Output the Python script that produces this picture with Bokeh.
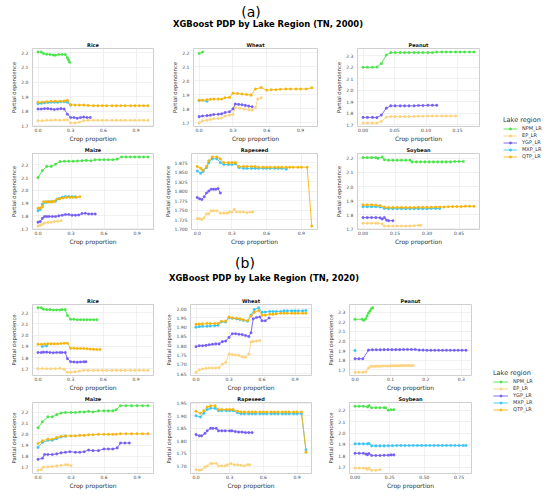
from bokeh.plotting import figure
from bokeh.layouts import row, column
from bokeh.models import FixedTicker, PrintfTickFormatter, Legend, LegendItem, Div
from bokeh.embed import file_html
from bokeh.resources import INLINE

FONT = "DejaVu Sans"
REGIONS = ["NPM_LR", "EP_LR", "YGP_LR", "MXP_LR", "QTP_LR"]
COLORS = {"NPM_LR": "#4be34b", "EP_LR": "#fdd27c", "YGP_LR": "#7460f0",
          "MXP_LR": "#38c6f4", "QTP_LR": "#f5b40f"}

TITLE_A = "XGBoost PDP by Lake Region (TN, 2000)"
TITLE_B = "XGBoost PDP by Lake Region (TN, 2020)"
CROPS = ["Rice", "Wheat", "Peanut", "Maize", "Rapeseed", "Soybean"]

# ---------------- (a) 2000 ----------------
A_RICE_NPM_X = [0.0, 0.03, 0.05, 0.08, 0.11, 0.14, 0.16, 0.19, 0.22, 0.25, 0.27, 0.28, 0.29]
A_RICE_NPM_Y = [2.205, 2.205, 2.195, 2.19, 2.188, 2.185, 2.183, 2.188, 2.188, 2.188, 2.165, 2.15, 2.135]
A_RICE_GRID = [0.0, 0.04, 0.08, 0.12, 0.16, 0.2, 0.24, 0.27, 0.3, 0.34, 0.38, 0.42, 0.46, 0.51, 0.55, 0.59, 0.63,
               0.68, 0.72, 0.76, 0.8, 0.85, 0.89, 0.93, 0.97, 1.01]
A_RICE_EP_Y = [1.735, 1.735, 1.738, 1.738, 1.74, 1.738, 1.74, 1.742, 1.72, 1.72, 1.725, 1.735, 1.738, 1.738,
               1.738, 1.738, 1.738, 1.738, 1.738, 1.738, 1.738, 1.738, 1.738, 1.738, 1.738, 1.738]
A_RICE_YGP_X = [0.0, 0.03, 0.06, 0.09, 0.12, 0.15, 0.18, 0.21, 0.24, 0.27, 0.3, 0.33, 0.36, 0.39, 0.42, 0.45, 0.48]
A_RICE_YGP_Y = [1.815, 1.815, 1.818, 1.818, 1.815, 1.812, 1.815, 1.818, 1.815, 1.78, 1.757, 1.757, 1.752, 1.757,
                1.76, 1.757, 1.757]
A_RICE_MXP_X = [0.0, 0.03, 0.06, 0.09, 0.12, 0.15, 0.18, 0.21, 0.24, 0.27, 0.3]
A_RICE_MXP_Y = [1.852, 1.855, 1.858, 1.86, 1.862, 1.862, 1.862, 1.865, 1.865, 1.862, 1.842]
A_RICE_QTP_Y = [1.862, 1.862, 1.865, 1.868, 1.868, 1.868, 1.87, 1.875, 1.845, 1.842, 1.842, 1.842, 1.84, 1.838,
                1.838, 1.838, 1.838, 1.838, 1.838, 1.838, 1.838, 1.838, 1.838, 1.838, 1.838, 1.838]

A_WHEAT_NPM_X = [0.0, 0.03]
A_WHEAT_NPM_Y = [2.195, 2.205]
A_WHEAT_EP_X = [0.0, 0.03, 0.07, 0.1, 0.13, 0.17, 0.2, 0.23, 0.27, 0.3, 0.32, 0.36, 0.4, 0.44, 0.47, 0.5, 0.52, 0.55]
A_WHEAT_EP_Y = [1.70, 1.715, 1.72, 1.725, 1.73, 1.732, 1.735, 1.75, 1.755, 1.76, 1.81, 1.805, 1.80, 1.795, 1.79,
                1.81, 1.87, 1.88]
A_WHEAT_YGP_X = [0.0, 0.03, 0.07, 0.1, 0.13, 0.17, 0.2, 0.23, 0.27, 0.3, 0.32, 0.35, 0.38, 0.41, 0.44, 0.47]
A_WHEAT_YGP_Y = [1.745, 1.75, 1.752, 1.755, 1.76, 1.762, 1.765, 1.775, 1.78, 1.80, 1.835, 1.832, 1.83, 1.825,
                 1.82, 1.815]
A_WHEAT_MXP_X = [0.0, 0.07]
A_WHEAT_MXP_Y = [1.86, 1.855]
A_WHEAT_QTP_X = [0.0, 0.03, 0.07, 0.1, 0.13, 0.17, 0.2, 0.23, 0.27, 0.3, 0.34, 0.38, 0.42, 0.46, 0.5, 0.55, 0.6,
                 0.64, 0.68, 0.72, 0.77, 0.81, 0.86, 0.9, 0.95, 1.0]
A_WHEAT_QTP_Y = [1.862, 1.862, 1.865, 1.868, 1.87, 1.87, 1.87, 1.88, 1.882, 1.912, 1.91, 1.906, 1.903, 1.898,
                 1.942, 1.952, 1.933, 1.937, 1.937, 1.94, 1.942, 1.942, 1.942, 1.942, 1.942, 1.95]

A_PEANUT_GRID = [0.0, 0.007, 0.015, 0.022, 0.029, 0.037, 0.044, 0.051, 0.059, 0.066, 0.073, 0.081, 0.088, 0.095,
                 0.103, 0.11, 0.117, 0.125, 0.132, 0.139, 0.147, 0.154, 0.161, 0.169, 0.176]
A_PEANUT_NPM_Y = [2.198, 2.198, 2.198, 2.2, 2.23, 2.305, 2.325, 2.325, 2.325, 2.325, 2.325, 2.325, 2.325, 2.325,
                  2.325, 2.325, 2.33, 2.33, 2.33, 2.33, 2.33, 2.33, 2.33, 2.33, 2.33]
A_PEANUT_YGP_X = [0.0, 0.007, 0.015, 0.022, 0.029, 0.037, 0.044, 0.051, 0.059, 0.066, 0.073, 0.081, 0.088, 0.095,
                  0.103, 0.11, 0.117]
A_PEANUT_YGP_Y = [1.765, 1.765, 1.765, 1.763, 1.785, 1.845, 1.865, 1.865, 1.865, 1.865, 1.865, 1.865, 1.868, 1.868,
                  1.87, 1.87, 1.87]
A_PEANUT_EP_X = [0.0, 0.007, 0.015, 0.022, 0.029, 0.037, 0.044, 0.051, 0.059, 0.066, 0.073, 0.081, 0.088, 0.095,
                 0.103, 0.11, 0.117, 0.125, 0.132, 0.139, 0.147]
A_PEANUT_EP_Y = [1.717, 1.717, 1.717, 1.717, 1.73, 1.768, 1.772, 1.772, 1.772, 1.772, 1.772, 1.774, 1.775, 1.775,
                 1.777, 1.777, 1.777, 1.777, 1.777, 1.777, 1.777]

A_MAIZE_NPM_X = [0.0, 0.04, 0.08, 0.12, 0.16, 0.2, 0.24, 0.28, 0.32, 0.36, 0.4, 0.44, 0.48, 0.52, 0.56, 0.6, 0.64,
                 0.68, 0.72, 0.76, 0.8, 0.84, 0.88, 0.92, 0.96, 1.0]
A_MAIZE_NPM_Y = [2.10, 2.155, 2.188, 2.188, 2.205, 2.225, 2.228, 2.228, 2.228, 2.23, 2.232, 2.235, 2.232, 2.24,
                 2.24, 2.24, 2.24, 2.24, 2.245, 2.262, 2.262, 2.262, 2.262, 2.262, 2.262, 2.262]
A_MAIZE_EP_X = [0.0, 0.02, 0.04, 0.06, 0.09, 0.12, 0.15, 0.18, 0.21]
A_MAIZE_EP_Y = [1.72, 1.725, 1.735, 1.745, 1.748, 1.75, 1.755, 1.758, 1.762]
A_MAIZE_YGP_X = [0.0, 0.02, 0.04, 0.06, 0.08, 0.1, 0.13, 0.16, 0.19, 0.22, 0.25, 0.28, 0.31, 0.34, 0.37, 0.4, 0.43,
                 0.46, 0.49, 0.52]
A_MAIZE_YGP_Y = [1.75, 1.755, 1.78, 1.795, 1.795, 1.795, 1.795, 1.795, 1.80, 1.805, 1.81, 1.81, 1.805, 1.805,
                 1.807, 1.818, 1.82, 1.815, 1.815, 1.815]
A_MAIZE_MXP_X = [0.0, 0.02, 0.04, 0.06, 0.08, 0.1, 0.13, 0.16, 0.19, 0.22, 0.25, 0.28, 0.31, 0.34]
A_MAIZE_MXP_Y = [1.84, 1.85, 1.89, 1.905, 1.908, 1.91, 1.912, 1.915, 1.935, 1.945, 1.952, 1.952, 1.95, 1.95]
A_MAIZE_QTP_X = [0.0, 0.02, 0.04, 0.05, 0.07, 0.09, 0.11, 0.13, 0.15, 0.17, 0.2, 0.23, 0.26, 0.29, 0.32, 0.35, 0.38]
A_MAIZE_QTP_Y = [1.86, 1.862, 1.87, 1.91, 1.91, 1.91, 1.91, 1.91, 1.915, 1.93, 1.935, 1.94, 1.945, 1.945, 1.945,
                 1.945, 1.95]

A_RAPE_GRID = [0.0, 0.03, 0.05, 0.08, 0.1, 0.13, 0.17, 0.2, 0.23, 0.27, 0.3, 0.33, 0.36, 0.4, 0.43, 0.47, 0.5, 0.53,
               0.57, 0.6, 0.63, 0.67, 0.7, 0.73, 0.77, 0.8, 0.83, 0.87, 0.9, 0.95, 0.99]
A_RAPE_QTP_Y = [1.865, 1.86, 1.855, 1.865, 1.88, 1.89, 1.89, 1.885, 1.875, 1.875, 1.875, 1.875, 1.865, 1.865,
                1.865, 1.865, 1.865, 1.863, 1.863, 1.863, 1.863, 1.863, 1.863, 1.863, 1.863, 1.863, 1.863, 1.863,
                1.863, 1.863, 1.708]
A_RAPE_MXP_X = [0.0, 0.03, 0.05, 0.08, 0.1, 0.13, 0.17, 0.2, 0.23, 0.27, 0.3, 0.33, 0.36, 0.4, 0.43, 0.47, 0.5, 0.53,
                0.57, 0.6, 0.63, 0.67, 0.7, 0.73, 0.77]
A_RAPE_MXP_Y = [1.853, 1.847, 1.852, 1.862, 1.875, 1.885, 1.885, 1.875, 1.87, 1.87, 1.87, 1.872, 1.862, 1.86,
                1.86, 1.86, 1.86, 1.86, 1.86, 1.86, 1.86, 1.86, 1.86, 1.86, 1.858]
A_RAPE_YGP_X = [0.0, 0.02, 0.04, 0.06, 0.08, 0.1, 0.12, 0.14, 0.16, 0.18, 0.2]
A_RAPE_YGP_Y = [1.783, 1.78, 1.778, 1.785, 1.795, 1.80, 1.805, 1.805, 1.805, 1.807, 1.795]
A_RAPE_EP_X = [0.0, 0.02, 0.04, 0.06, 0.08, 0.1, 0.12, 0.14, 0.17, 0.2, 0.23, 0.26, 0.28, 0.3, 0.32, 0.34, 0.37,
               0.4, 0.43, 0.46, 0.48]
A_RAPE_EP_Y = [1.728, 1.727, 1.725, 1.73, 1.74, 1.74, 1.748, 1.748, 1.748, 1.742, 1.742, 1.742, 1.745, 1.745,
               1.752, 1.745, 1.745, 1.745, 1.743, 1.745, 1.745]

A_SOY_NPM_X = [0.0, 0.02, 0.04, 0.06, 0.07, 0.09, 0.1, 0.12, 0.14, 0.16, 0.18, 0.2, 0.22, 0.23, 0.25, 0.27, 0.29,
               0.31, 0.33, 0.35, 0.37, 0.39, 0.41, 0.43, 0.45, 0.47]
A_SOY_NPM_Y = [2.205, 2.205, 2.205, 2.205, 2.2, 2.21, 2.19, 2.187, 2.187, 2.187, 2.187, 2.187, 2.187, 2.175,
               2.175, 2.175, 2.175, 2.175, 2.175, 2.175, 2.175, 2.175, 2.175, 2.178, 2.178, 2.178]
A_SOY_QTP_X = [0.0, 0.02, 0.04, 0.06, 0.08, 0.1, 0.12, 0.14, 0.16, 0.18, 0.2, 0.22, 0.24, 0.26, 0.28, 0.3, 0.32,
               0.34, 0.36, 0.38, 0.4, 0.42, 0.44, 0.46, 0.48, 0.5, 0.52]
A_SOY_QTP_Y = [1.87, 1.87, 1.87, 1.868, 1.865, 1.855, 1.852, 1.852, 1.852, 1.852, 1.852, 1.852, 1.852, 1.853,
               1.853, 1.853, 1.853, 1.855, 1.855, 1.855, 1.857, 1.858, 1.858, 1.858, 1.86, 1.86, 1.86]
A_SOY_MXP_X = [0.0, 0.02, 0.04, 0.06, 0.08, 0.1, 0.12, 0.14, 0.16, 0.18, 0.2, 0.22, 0.24, 0.26, 0.28, 0.3, 0.32,
               0.34, 0.36]
A_SOY_MXP_Y = [1.857, 1.857, 1.857, 1.857, 1.855, 1.845, 1.843, 1.843, 1.843, 1.843, 1.843, 1.843, 1.843, 1.843,
               1.843, 1.843, 1.845, 1.845, 1.845]
A_SOY_YGP_X = [0.0, 0.02, 0.04, 0.06, 0.08, 0.09, 0.1, 0.11, 0.12, 0.14]
A_SOY_YGP_Y = [1.78, 1.78, 1.78, 1.78, 1.778, 1.77, 1.78, 1.762, 1.758, 1.758]
A_SOY_EP_X = [0.0, 0.02, 0.04, 0.06, 0.07, 0.09, 0.1, 0.12, 0.14, 0.16, 0.18, 0.2, 0.22, 0.24, 0.26, 0.27]
A_SOY_EP_Y = [1.74, 1.74, 1.74, 1.74, 1.74, 1.735, 1.72, 1.72, 1.72, 1.72, 1.72, 1.72, 1.72, 1.722, 1.725, 1.725]

# ---------------- (b) 2020 ----------------
B_RICE_NPM_X = [0.0, 0.03, 0.05, 0.08, 0.11, 0.14, 0.17, 0.2, 0.22, 0.25, 0.27, 0.3, 0.33, 0.36, 0.39, 0.42, 0.45,
                0.48, 0.51, 0.54]
B_RICE_NPM_Y = [2.245, 2.245, 2.232, 2.228, 2.228, 2.225, 2.225, 2.225, 2.228, 2.228, 2.175, 2.142, 2.142, 2.138,
                2.138, 2.138, 2.138, 2.138, 2.138, 2.138]
B_RICE_QTP_X = [0.0, 0.03, 0.06, 0.09, 0.12, 0.15, 0.18, 0.21, 0.24, 0.27, 0.3, 0.33, 0.36, 0.39, 0.42, 0.45, 0.48,
                0.51, 0.54, 0.57]
B_RICE_QTP_Y = [1.918, 1.918, 1.92, 1.922, 1.922, 1.922, 1.922, 1.925, 1.928, 1.928, 1.883, 1.883, 1.88, 1.88,
                1.88, 1.878, 1.875, 1.873, 1.872, 1.872]
B_RICE_MXP_X = [0.04, 0.08]
B_RICE_MXP_Y = [1.898, 1.905]
B_RICE_YGP_X = [0.0, 0.03, 0.05, 0.08, 0.11, 0.14, 0.17, 0.2, 0.22, 0.25, 0.27, 0.3, 0.33, 0.36, 0.39, 0.42, 0.44]
B_RICE_YGP_Y = [1.845, 1.845, 1.848, 1.848, 1.845, 1.842, 1.845, 1.845, 1.845, 1.845, 1.79, 1.762, 1.76, 1.758,
                1.76, 1.762, 1.762]
B_RICE_EP_X = [0.0, 0.04, 0.08, 0.12, 0.16, 0.2, 0.24, 0.27, 0.3, 0.34, 0.38, 0.42, 0.46, 0.51, 0.55, 0.59, 0.63,
               0.68, 0.72, 0.76, 0.8, 0.85, 0.89, 0.93, 0.97, 1.01]
B_RICE_EP_Y = [1.70, 1.702, 1.70, 1.70, 1.70, 1.703, 1.695, 1.668, 1.668, 1.672, 1.678, 1.685, 1.685, 1.685, 1.685,
               1.685, 1.685, 1.685, 1.685, 1.685, 1.685, 1.685, 1.685, 1.685, 1.685, 1.685]

B_WHEAT_GRID = [0.0, 0.03, 0.06, 0.1, 0.13, 0.17, 0.2, 0.23, 0.27, 0.3, 0.33, 0.37, 0.4, 0.43, 0.47, 0.5, 0.53, 0.57,
                0.6, 0.63, 0.67, 0.7, 0.73, 0.77, 0.8, 0.83, 0.87, 0.9, 0.93, 0.97, 1.0]
B_WHEAT_MXP_Y = [1.90, 1.903, 1.905, 1.905, 1.907, 1.908, 1.91, 1.928, 1.928, 1.952, 1.948, 1.945, 1.942, 1.937,
                 1.932, 1.965, 1.995, 2.005, 1.98, 1.982, 1.985, 1.985, 1.985, 1.985, 1.988, 1.988, 1.988, 1.988,
                 1.988, 1.988, 1.99]
B_WHEAT_QTP_Y = [1.915, 1.917, 1.918, 1.92, 1.92, 1.92, 1.92, 1.932, 1.932, 1.955, 1.95, 1.948, 1.945, 1.94,
                 1.935, 1.96, 1.98, 1.99, 1.965, 1.965, 1.97, 1.97, 1.972, 1.975, 1.975, 1.975, 1.975, 1.975, 1.975,
                 1.975, 1.975]
B_WHEAT_YGP_X = [0.0, 0.03, 0.06, 0.09, 0.12, 0.15, 0.18, 0.21, 0.24, 0.27, 0.3, 0.33, 0.36, 0.39, 0.42, 0.45, 0.48,
                 0.5, 0.52, 0.55, 0.58, 0.6, 0.63, 0.665]
B_WHEAT_YGP_Y = [1.795, 1.80, 1.80, 1.802, 1.805, 1.808, 1.81, 1.81, 1.822, 1.825, 1.845, 1.865, 1.865, 1.862,
                 1.86, 1.855, 1.85, 1.87, 1.945, 1.952, 1.955, 1.935, 1.935, 1.95]
B_WHEAT_EP_X = [0.0, 0.03, 0.06, 0.09, 0.12, 0.15, 0.18, 0.21, 0.24, 0.27, 0.3, 0.33, 0.36, 0.39, 0.42, 0.45, 0.48,
                0.5, 0.52, 0.55, 0.58]
B_WHEAT_EP_Y = [1.657, 1.67, 1.675, 1.678, 1.68, 1.68, 1.68, 1.682, 1.70, 1.71, 1.755, 1.752, 1.75, 1.748, 1.74,
                1.738, 1.755, 1.82, 1.823, 1.825, 1.828]

B_PEANUT_NPM_X = [0.0, 0.02, 0.025, 0.03, 0.034, 0.038, 0.042, 0.046, 0.05]
B_PEANUT_NPM_Y = [2.225, 2.225, 2.215, 2.23, 2.26, 2.29, 2.31, 2.335, 2.345]
B_PEANUT_MXP_X = [0.0]
B_PEANUT_MXP_Y = [1.90]
B_PEANUT_YGP_X = [0.0, 0.011, 0.022, 0.038, 0.049, 0.06, 0.071, 0.082, 0.093, 0.104, 0.115, 0.126, 0.137, 0.148,
                  0.159, 0.17, 0.181, 0.192, 0.203, 0.214, 0.225, 0.236, 0.247, 0.258, 0.269, 0.28, 0.291, 0.302,
                  0.313]
B_PEANUT_YGP_Y = [1.815, 1.815, 1.815, 1.905, 1.908, 1.908, 1.908, 1.91, 1.91, 1.91, 1.91, 1.91, 1.912, 1.912,
                  1.912, 1.912, 1.905, 1.905, 1.903, 1.903, 1.903, 1.903, 1.903, 1.903, 1.903, 1.903, 1.903, 1.903,
                  1.903]
B_PEANUT_EP_X = [0.0, 0.011, 0.022, 0.03, 0.038, 0.044, 0.05, 0.056, 0.062, 0.068, 0.074, 0.08, 0.086, 0.092, 0.098,
                 0.104, 0.11, 0.116, 0.122, 0.128, 0.134, 0.14, 0.146, 0.152, 0.158, 0.164]
B_PEANUT_EP_Y = [1.675, 1.675, 1.675, 1.678, 1.72, 1.735, 1.737, 1.737, 1.738, 1.738, 1.738, 1.74, 1.74, 1.74,
                 1.74, 1.742, 1.742, 1.742, 1.742, 1.742, 1.745, 1.745, 1.745, 1.745, 1.745, 1.745]

B_MAIZE_GRID = [0.0, 0.04, 0.09, 0.13, 0.17, 0.21, 0.25, 0.3, 0.34, 0.38, 0.42, 0.46, 0.5, 0.55, 0.6, 0.64, 0.68,
                0.71, 0.75, 0.8, 0.85, 0.9, 0.95, 1.0]
B_MAIZE_NPM_Y = [2.06, 2.115, 2.16, 2.16, 2.18, 2.195, 2.2, 2.2, 2.2, 2.205, 2.205, 2.21, 2.205, 2.215, 2.215,
                 2.215, 2.215, 2.225, 2.262, 2.262, 2.262, 2.262, 2.262, 2.262]
B_MAIZE_QTP_Y = [1.915, 1.94, 1.955, 1.955, 1.97, 1.98, 1.985, 1.985, 1.985, 1.99, 1.99, 1.995, 1.995, 2.0, 2.0,
                 2.0, 2.0, 2.0, 2.005, 2.005, 2.005, 2.005, 2.005, 2.005]
B_MAIZE_MXP_X = [0.0, 0.04, 0.09, 0.13, 0.17, 0.21, 0.25]
B_MAIZE_MXP_Y = [1.88, 1.925, 1.945, 1.945, 1.96, 1.975, 1.982]
B_MAIZE_YGP_X = [0.0, 0.04, 0.06, 0.09, 0.13, 0.17, 0.21, 0.25, 0.29, 0.34, 0.38, 0.42, 0.46, 0.5, 0.55, 0.6, 0.64,
                 0.68, 0.72, 0.75, 0.79, 0.83]
B_MAIZE_YGP_Y = [1.77, 1.78, 1.815, 1.815, 1.815, 1.82, 1.83, 1.835, 1.84, 1.835, 1.835, 1.84, 1.855, 1.85, 1.85,
                 1.865, 1.865, 1.865, 1.875, 1.92, 1.92, 1.92]
B_MAIZE_EP_X = [0.0, 0.03, 0.05, 0.09, 0.13, 0.17, 0.21, 0.25, 0.27, 0.3]
B_MAIZE_EP_Y = [1.67, 1.675, 1.70, 1.70, 1.705, 1.71, 1.715, 1.72, 1.72, 1.712]

B_RAPE_GRID = [0.0, 0.04, 0.07, 0.1, 0.13, 0.17, 0.2, 0.23, 0.27, 0.3, 0.33, 0.37, 0.4, 0.43, 0.47, 0.5, 0.53, 0.57,
               0.6, 0.63, 0.67, 0.7, 0.73, 0.77, 0.8, 0.83, 0.87, 0.9, 0.94, 0.98]
B_RAPE_QTP_Y = [1.918, 1.91, 1.92, 1.935, 1.94, 1.94, 1.925, 1.925, 1.925, 1.925, 1.925, 1.918, 1.915, 1.915,
                1.915, 1.915, 1.915, 1.915, 1.915, 1.915, 1.915, 1.915, 1.915, 1.915, 1.915, 1.915, 1.915, 1.915,
                1.915, 1.755]
B_RAPE_MXP_Y = [1.90, 1.895, 1.91, 1.925, 1.93, 1.93, 1.92, 1.92, 1.92, 1.92, 1.92, 1.912, 1.908, 1.908, 1.908,
                1.908, 1.908, 1.908, 1.908, 1.908, 1.908, 1.908, 1.908, 1.908, 1.908, 1.908, 1.908, 1.908, 1.908,
                1.765]
B_RAPE_YGP_X = [0.0, 0.03, 0.05, 0.08, 0.1, 0.13, 0.15, 0.18, 0.2, 0.23, 0.26, 0.3, 0.32, 0.35, 0.38, 0.41, 0.44,
                0.47, 0.5]
B_RAPE_YGP_Y = [1.825, 1.82, 1.82, 1.83, 1.84, 1.85, 1.85, 1.85, 1.84, 1.84, 1.84, 1.84, 1.84, 1.837, 1.835, 1.835,
                1.833, 1.833, 1.833]
B_RAPE_EP_X = [0.0, 0.03, 0.05, 0.08, 0.1, 0.13, 0.15, 0.18, 0.2, 0.23, 0.26, 0.28, 0.31, 0.34, 0.37, 0.4, 0.43,
               0.46, 0.48]
B_RAPE_EP_Y = [1.685, 1.683, 1.685, 1.695, 1.70, 1.71, 1.71, 1.71, 1.70, 1.70, 1.70, 1.705, 1.71, 1.705, 1.705,
               1.703, 1.70, 1.705, 1.705]

B_SOY_NPM_X = [0.0, 0.03, 0.06, 0.09, 0.1, 0.12, 0.15, 0.18, 0.21, 0.22, 0.24, 0.26, 0.28]
B_SOY_NPM_Y = [2.235, 2.235, 2.235, 2.23, 2.24, 2.222, 2.222, 2.222, 2.222, 2.222, 2.2, 2.205, 2.205]
B_SOY_MXP_X = [0.0, 0.03, 0.06, 0.09, 0.1, 0.12, 0.15, 0.18, 0.21, 0.24, 0.27, 0.3, 0.33, 0.36, 0.39, 0.42, 0.45,
               0.48, 0.51, 0.54, 0.57, 0.6, 0.63, 0.66, 0.69, 0.72, 0.75, 0.78, 0.8]
B_SOY_MXP_Y = [1.905, 1.905, 1.905, 1.905, 1.908, 1.887, 1.887, 1.887, 1.887, 1.888, 1.889, 1.89, 1.89, 1.89, 1.89,
               1.891, 1.891, 1.891, 1.891, 1.891, 1.891, 1.891, 1.891, 1.891, 1.891, 1.891, 1.891, 1.891, 1.891]
B_SOY_YGP_X = [0.0, 0.03, 0.06, 0.08, 0.09, 0.1, 0.12, 0.15, 0.18, 0.21, 0.24, 0.26, 0.28]
B_SOY_YGP_Y = [1.822, 1.822, 1.822, 1.815, 1.81, 1.82, 1.803, 1.803, 1.803, 1.805, 1.805, 1.808, 1.808]
B_SOY_EP_X = [0.0, 0.03, 0.06, 0.08, 0.09, 0.1, 0.12, 0.15, 0.18]
B_SOY_EP_Y = [1.692, 1.692, 1.692, 1.688, 1.683, 1.692, 1.673, 1.673, 1.678]

# ticks
X_TICKS_1 = [0.0, 0.3, 0.6, 0.9]
X_TICKS_A_PEANUT = [0.0, 0.05, 0.10, 0.15]
X_TICKS_A_SOY = [0.0, 0.15, 0.30, 0.45]
X_TICKS_B_PEANUT = [0.0, 0.1, 0.2, 0.3]
X_TICKS_B_SOY = [0.0, 0.25, 0.50, 0.75]
Y_TICKS_STD = [1.7, 1.8, 1.9, 2.0, 2.1, 2.2]
Y_TICKS_PEANUT = [1.7, 1.8, 1.9, 2.0, 2.1, 2.2, 2.3]
Y_TICKS_A_RAPE = [1.700, 1.725, 1.750, 1.775, 1.800, 1.825, 1.850, 1.875]
Y_TICKS_B_WHEAT = [1.65, 1.70, 1.75, 1.80, 1.85, 1.90, 1.95, 2.00]
Y_TICKS_B_RAPE = [1.70, 1.75, 1.80, 1.85, 1.90, 1.95]

NAN = float("nan")


def panel(title, series, xt, xf, yt, yf, w, h, L, R, T, B):
    p = figure(width=w, height=h, min_border_left=L, min_border_right=R, min_border_top=T,
               min_border_bottom=B, toolbar_location=None, output_backend="svg", title=title, margin=0)
    for reg in REGIONS:
        if reg not in series:
            continue
        xs, ys = series[reg]
        c = COLORS[reg]
        if len(xs) > 1:
            p.line(xs, ys, line_color=c, line_width=0.9)
        p.scatter(xs, ys, size=2.6, fill_color=c, line_color=c, line_width=0.3)
    p.title.align = "center"
    p.title.text_font = FONT
    p.title.text_font_size = "5px"
    p.title.text_font_style = "bold"
    p.title.text_color = "#111111"
    p.title.standoff = 1
    p.title.offset = 0
    p.background_fill_color = "white"
    p.border_fill_color = "white"
    p.outline_line_color = "#cfcfcf"
    p.outline_line_width = 1.0
    p.grid.grid_line_color = "#e8e8e8"
    p.grid.grid_line_width = 0.6
    for ax, lab, t, f, fs in ((p.xaxis, "Crop proportion", xt, xf, "6px"),
                              (p.yaxis, "Partial dependence", yt, yf, "5.3px")):
        ax.ticker = FixedTicker(ticks=t)
        ax.formatter = PrintfTickFormatter(format=f)
        ax.axis_label = lab
        ax.axis_label_text_font = FONT
        ax.axis_label_text_font_size = fs
        ax.axis_label_text_font_style = "normal"
        ax.axis_label_text_color = "#333333"
        ax.major_label_text_font = FONT
        ax.major_label_text_font_size = "4.5px"
        ax.major_label_text_color = "#444444"
        ax.major_tick_out = 0
        ax.major_tick_in = 0
        ax.minor_tick_out = 0
        ax.minor_tick_in = 0
        ax.axis_line_color = None
    p.xaxis.major_label_standoff = 1
    p.xaxis.axis_label_standoff = 0
    p.yaxis.major_label_standoff = 4
    p.yaxis.axis_label_standoff = 1
    return p


def legend_fig(w, h, L, T, gw):
    p = figure(width=w, height=h, min_border_left=L, min_border_top=T, min_border_right=0,
               min_border_bottom=0, x_axis_type=None, y_axis_type=None, x_range=(0, 1), y_range=(0, 1),
               toolbar_location=None, output_backend="svg", margin=0)
    p.outline_line_color = None
    p.grid.visible = False
    p.background_fill_color = "white"
    p.border_fill_color = "white"
    items = []
    for reg in REGIONS:
        c = COLORS[reg]
        lr = p.line(x=[NAN], y=[NAN], line_color=c, line_width=0.9)
        sr = p.scatter(x=[NAN], y=[NAN], size=3, fill_color=c, line_color=c)
        items.append(LegendItem(label=reg, renderers=[lr, sr]))
    leg = Legend(items=items, location="top_left", title="Lake region", margin=0, padding=0, spacing=1,
                 label_height=5, glyph_height=5, glyph_width=gw, label_standoff=5, title_standoff=1,
                 border_line_color=None, background_fill_alpha=0,
                 label_text_font=FONT, label_text_font_size="5px", label_text_color="#333333",
                 title_text_font=FONT, title_text_font_size="6.5px", title_text_font_style="normal",
                 title_text_color="#333333")
    p.add_layout(leg)
    return p


def header(label, title, h, lx, ly, tx, ty):
    html = ("<div style=\"position:relative;width:534px;height:%dpx;font-family:'DejaVu Sans';color:#000;\">"
            "<div style=\"position:absolute;left:%dpx;top:%dpx;width:80px;text-align:center;font-size:14px;"
            "line-height:14px;white-space:nowrap;\">%s</div>"
            "<div style=\"position:absolute;left:%dpx;top:%dpx;width:300px;text-align:center;font-size:8.4px;"
            "font-weight:bold;line-height:9px;white-space:nowrap;\">%s</div></div>") % (
        h, lx - 40, ly, label, tx - 150, ty, title)
    return Div(text=html, width=534, height=h, margin=0)


f1, f2, f3 = "%.1f", "%.2f", "%.3f"

a_rice = panel(CROPS[0], {"NPM_LR": (A_RICE_NPM_X, A_RICE_NPM_Y), "EP_LR": (A_RICE_GRID, A_RICE_EP_Y),
                          "YGP_LR": (A_RICE_YGP_X, A_RICE_YGP_Y), "MXP_LR": (A_RICE_MXP_X, A_RICE_MXP_Y),
                          "QTP_LR": (A_RICE_GRID, A_RICE_QTP_Y)},
               X_TICKS_1, f1, Y_TICKS_STD, f1, 161, 108, 19, 16, 12, 14)
a_wheat = panel(CROPS[1], {"NPM_LR": (A_WHEAT_NPM_X, A_WHEAT_NPM_Y), "EP_LR": (A_WHEAT_EP_X, A_WHEAT_EP_Y),
                           "YGP_LR": (A_WHEAT_YGP_X, A_WHEAT_YGP_Y), "MXP_LR": (A_WHEAT_MXP_X, A_WHEAT_MXP_Y),
                           "QTP_LR": (A_WHEAT_QTP_X, A_WHEAT_QTP_Y)},
                X_TICKS_1, f1, Y_TICKS_STD, f1, 164, 108, 19, 16, 12, 14)
a_peanut = panel(CROPS[2], {"NPM_LR": (A_PEANUT_GRID, A_PEANUT_NPM_Y), "EP_LR": (A_PEANUT_EP_X, A_PEANUT_EP_Y),
                            "YGP_LR": (A_PEANUT_YGP_X, A_PEANUT_YGP_Y)},
                 X_TICKS_A_PEANUT, f2, Y_TICKS_PEANUT, f1, 164, 108, 19, 18, 12, 14)
a_maize = panel(CROPS[3], {"NPM_LR": (A_MAIZE_NPM_X, A_MAIZE_NPM_Y), "EP_LR": (A_MAIZE_EP_X, A_MAIZE_EP_Y),
                           "YGP_LR": (A_MAIZE_YGP_X, A_MAIZE_YGP_Y), "MXP_LR": (A_MAIZE_MXP_X, A_MAIZE_MXP_Y),
                           "QTP_LR": (A_MAIZE_QTP_X, A_MAIZE_QTP_Y)},
                X_TICKS_1, f1, Y_TICKS_STD, f1, 153, 103, 19, 8, 8, 14)
a_rape = panel(CROPS[4], {"EP_LR": (A_RAPE_EP_X, A_RAPE_EP_Y), "YGP_LR": (A_RAPE_YGP_X, A_RAPE_YGP_Y),
                          "MXP_LR": (A_RAPE_MXP_X, A_RAPE_MXP_Y), "QTP_LR": (A_RAPE_GRID, A_RAPE_QTP_Y)},
               X_TICKS_1, f1, Y_TICKS_A_RAPE, f3, 172, 103, 27, 16, 8, 14)
a_soy = panel(CROPS[5], {"NPM_LR": (A_SOY_NPM_X, A_SOY_NPM_Y), "EP_LR": (A_SOY_EP_X, A_SOY_EP_Y),
                         "YGP_LR": (A_SOY_YGP_X, A_SOY_YGP_Y), "MXP_LR": (A_SOY_MXP_X, A_SOY_MXP_Y),
                         "QTP_LR": (A_SOY_QTP_X, A_SOY_QTP_Y)},
              X_TICKS_A_SOY, f2, Y_TICKS_STD, f1, 164, 103, 19, 18, 8, 14)

b_rice = panel(CROPS[0], {"NPM_LR": (B_RICE_NPM_X, B_RICE_NPM_Y), "EP_LR": (B_RICE_EP_X, B_RICE_EP_Y),
                          "YGP_LR": (B_RICE_YGP_X, B_RICE_YGP_Y), "MXP_LR": (B_RICE_MXP_X, B_RICE_MXP_Y),
                          "QTP_LR": (B_RICE_QTP_X, B_RICE_QTP_Y)},
               X_TICKS_1, f1, Y_TICKS_STD, f1, 155, 98, 19, 10, 8, 14)
b_wheat = panel(CROPS[1], {"EP_LR": (B_WHEAT_EP_X, B_WHEAT_EP_Y), "YGP_LR": (B_WHEAT_YGP_X, B_WHEAT_YGP_Y),
                           "MXP_LR": (B_WHEAT_GRID, B_WHEAT_MXP_Y), "QTP_LR": (B_WHEAT_GRID, B_WHEAT_QTP_Y)},
                X_TICKS_1, f1, Y_TICKS_B_WHEAT, f2, 162, 98, 22, 14, 8, 14)
b_peanut = panel(CROPS[2], {"NPM_LR": (B_PEANUT_NPM_X, B_PEANUT_NPM_Y), "EP_LR": (B_PEANUT_EP_X, B_PEANUT_EP_Y),
                            "YGP_LR": (B_PEANUT_YGP_X, B_PEANUT_YGP_Y), "MXP_LR": (B_PEANUT_MXP_X, B_PEANUT_MXP_Y)},
                 X_TICKS_B_PEANUT, f1, Y_TICKS_PEANUT, f1, 164, 98, 19, 18, 8, 14)
b_maize = panel(CROPS[3], {"NPM_LR": (B_MAIZE_GRID, B_MAIZE_NPM_Y), "EP_LR": (B_MAIZE_EP_X, B_MAIZE_EP_Y),
                           "YGP_LR": (B_MAIZE_YGP_X, B_MAIZE_YGP_Y), "MXP_LR": (B_MAIZE_MXP_X, B_MAIZE_MXP_Y),
                           "QTP_LR": (B_MAIZE_GRID, B_MAIZE_QTP_Y)},
                X_TICKS_1, f1, Y_TICKS_STD, f1, 155, 98, 19, 10, 8, 13)
b_rape = panel(CROPS[4], {"EP_LR": (B_RAPE_EP_X, B_RAPE_EP_Y), "YGP_LR": (B_RAPE_YGP_X, B_RAPE_YGP_Y),
                          "MXP_LR": (B_RAPE_GRID, B_RAPE_MXP_Y), "QTP_LR": (B_RAPE_GRID, B_RAPE_QTP_Y)},
               X_TICKS_1, f1, Y_TICKS_B_RAPE, f2, 162, 98, 22, 14, 8, 13)
b_soy = panel(CROPS[5], {"NPM_LR": (B_SOY_NPM_X, B_SOY_NPM_Y), "EP_LR": (B_SOY_EP_X, B_SOY_EP_Y),
                         "YGP_LR": (B_SOY_YGP_X, B_SOY_YGP_Y), "MXP_LR": (B_SOY_MXP_X, B_SOY_MXP_Y)},
              X_TICKS_B_SOY, f2, Y_TICKS_STD, f1, 164, 98, 19, 18, 8, 13)

leg_a = legend_fig(45, 211, 6, 80, 14)
leg_b = legend_fig(53, 196, 4, 74, 15)

head_a = header("(a)", TITLE_A, 28, 243, -3, 260, 12)
head_b = header("(b)", TITLE_B, 48, 237, 9, 256, 27)

layout = column(
    head_a,
    row(column(row(a_rice, a_wheat, a_peanut, margin=0), row(a_maize, a_rape, a_soy, margin=0), margin=0),
        leg_a, margin=0),
    head_b,
    row(column(row(b_rice, b_wheat, b_peanut, margin=0), row(b_maize, b_rape, b_soy, margin=0), margin=0),
        leg_b, margin=0),
    margin=(8, 0, 0, 8),
)

open("out.html", "w").write(file_html(layout, INLINE))
